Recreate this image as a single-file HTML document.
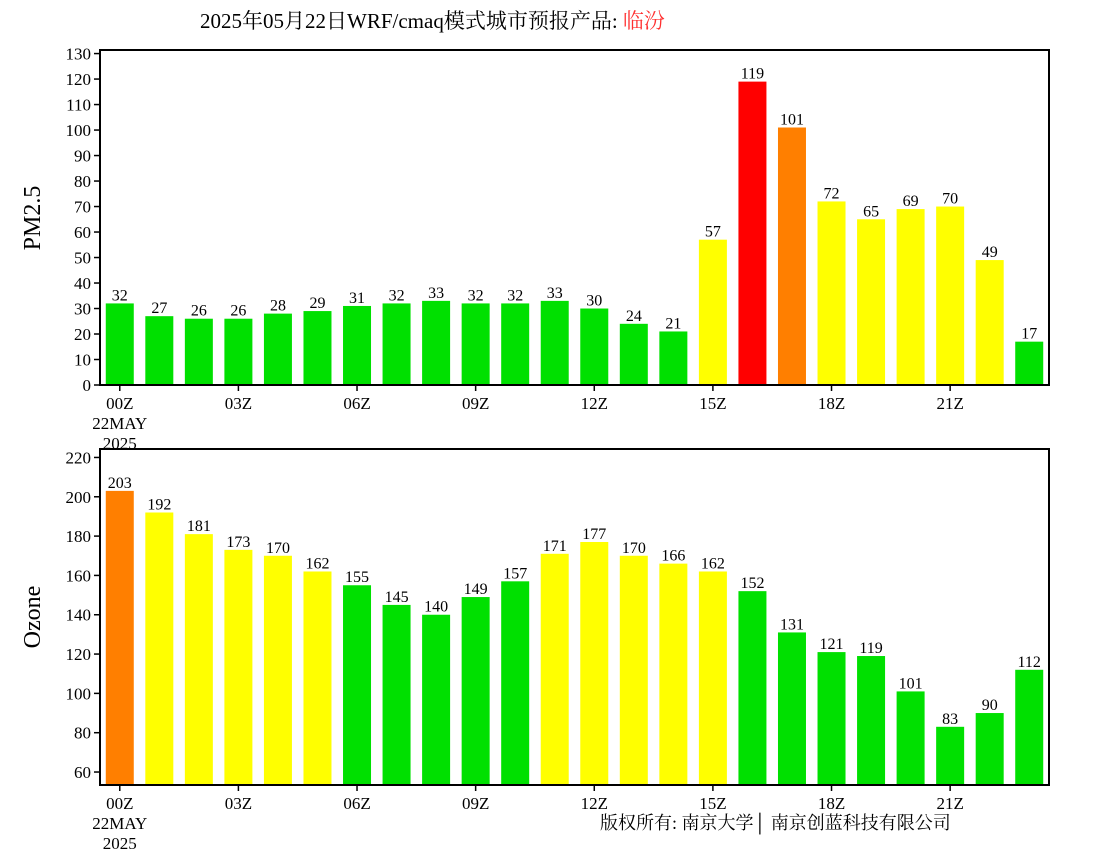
<!DOCTYPE html>
<html><head><meta charset="utf-8"><style>
body{margin:0;background:#fff}
svg text{font-family:"Liberation Serif","Noto Serif CJK SC",serif;fill:#000}
</style></head><body>
<svg id="c" width="1100" height="850" xmlns="http://www.w3.org/2000/svg">
<text x="200" y="28" font-size="21">2025年05月22日WRF/cmaq模式城市预报产品: <tspan fill="#ff3030">临汾</tspan></text>
<text x="600" y="829" font-size="18" font-family="Noto Serif CJK SC,serif">版权所有: 南京大学│ 南京创蓝科技有限公司</text>
</svg>
<script>
const hours = ["00Z","01Z","02Z","03Z","04Z","05Z","06Z","07Z","08Z","09Z","10Z","11Z","12Z","13Z","14Z","15Z","16Z","17Z","18Z","19Z","20Z","21Z","22Z","23Z"];
const pm25 = [32,27,26,26,28,29,31,32,33,32,32,33,30,24,21,57,119,101,72,65,69,70,49,17];
const ozone = [203,192,181,173,170,162,155,145,140,149,157,171,177,170,166,162,152,131,121,119,101,83,90,112];
const pmTicks = [0,10,20,30,40,50,60,70,80,90,100,110,120,130];
const ozTicks = [60,80,100,120,140,160,180,200,220];
const NS="http://www.w3.org/2000/svg", svg=document.getElementById('c');
function mk(t,a,p){const e=document.createElementNS(NS,t);for(const k in a)e.setAttribute(k,a[k]);(p||svg).appendChild(e);return e;}
function pmColor(v){return v>115?"#ff0000":v>75?"#ff7f00":v>35?"#ffff00":"#00e000";}
function ozColor(v){return v>200?"#ff7f00":v>160?"#ffff00":"#00e000";}
function panel(name,vals,ticks,ymin,ymax,top,bottom,colorFn,label,labelY){
  const L=100,R=1049,slot=(R-L)/vals.length;
  const y=v=>bottom-(v-ymin)/(ymax-ymin)*(bottom-top);
  const x=i=>L+slot*(i+0.5);
  const g=mk('g',{});
  vals.forEach((v,i)=>{
    const r=mk('rect',{x:x(i)-14,y:y(v),width:28,height:bottom-y(v),fill:colorFn(v)},g);
    
    
    const t=mk('text',{x:x(i),y:y(v)-3,'font-size':16,'text-anchor':'middle'},g);t.textContent=v;
    
    
  });
  const b=mk('rect',{x:L,y:top,width:R-L,height:bottom-top,fill:'none',stroke:'#000','stroke-width':2},g);
  
  
  ticks.forEach(v=>{
    mk('line',{x1:L-6,x2:L,y1:y(v),y2:y(v),stroke:'#000','stroke-width':1.5},g);
    const t=mk('text',{x:L-9,y:y(v)+6,'font-size':17,'text-anchor':'end'},g);t.textContent=v;
    
    
  });
  hours.forEach((h,i)=>{ if(i%3) return;
    mk('line',{x1:x(i),x2:x(i),y1:bottom,y2:bottom+6,stroke:'#000','stroke-width':1.5},g);
    const t=mk('text',{x:x(i),y:bottom+24,'font-size':17,'text-anchor':'middle'},g);t.textContent=h;
    
    
  });
  [["22MAY",44],["2025",64]].forEach(([s,dy])=>{const t=mk('text',{x:x(0),y:bottom+dy,'font-size':17,'text-anchor':'middle'},g);t.textContent=s;
    
    });
  const yl=mk('text',{x:0,y:0,'font-size':24,'text-anchor':'middle',transform:`translate(40,${labelY}) rotate(-90)`},g);yl.textContent=label;
  
  
}
panel('pm25',pm25,pmTicks,0,131.4,50,385,pmColor,'PM2.5',218);
panel('ozone',ozone,ozTicks,53.4,224.3,449,785,ozColor,'Ozone',617);
</script>
</body></html>
